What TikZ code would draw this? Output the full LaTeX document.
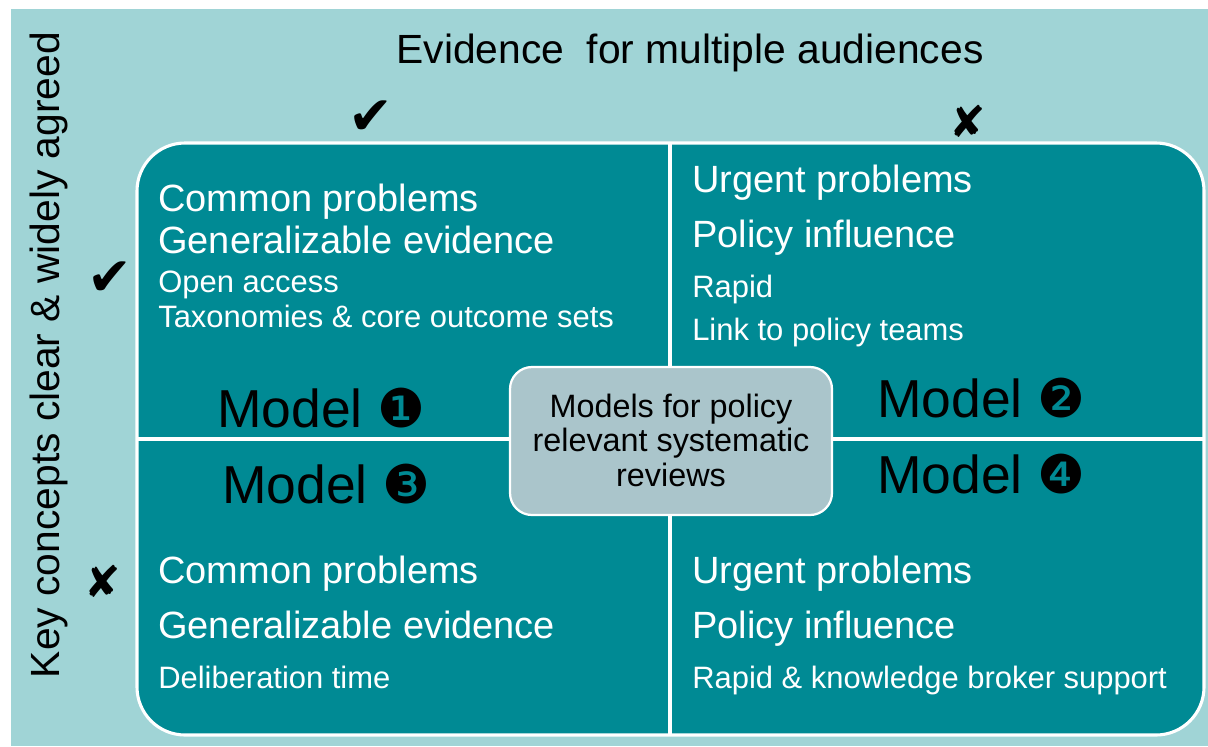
\documentclass[tikz,border=0pt]{standalone}
\usepackage{fontspec}
\setmainfont{Liberation Sans}
\newfontfamily\symfont{DejaVu Sans}
\definecolor{bgteal}{RGB}{160,212,214}
\definecolor{darkteal}{RGB}{0,138,148}
\definecolor{boxgrey}{RGB}{170,197,203}
\tikzset{
	bigtxt/.style={anchor=base west, text=white, inner sep=0pt, font=\fontsize{27}{30}\selectfont},
	smalltxt/.style={anchor=base west, text=white, inner sep=0pt, font=\fontsize{22}{26}\selectfont},
	modeltxt/.style={anchor=base west, inner sep=0pt, font=\fontsize{38}{42}\selectfont},
	axistxt/.style={inner sep=0pt, font=\fontsize{29}{32}\selectfont},
	yestxt/.style={inner sep=0pt, font=\symfont\fontsize{38}{38}\selectfont},
	notxt/.style={inner sep=0pt, font=\symfont\fontsize{31}{31}\selectfont}
}

\begin{document}
\begin{tikzpicture}[x=0.025cm, y=-0.025cm]
		%%%%% START %%%%%
		\useasboundingbox (0, 0) rectangle (1208, 746);
		\fill[white] (0, 0) rectangle (1208, 746);
		\fill[bgteal] (11, 9) rectangle (1208, 746);
		
		% quadrants
		\draw[white, line width=2.2pt, fill=darkteal, rounded corners=1.2cm] (137, 143) rectangle (1204, 735);
		\draw[white, line width=2.2pt] (670, 143) -- (670, 735);
		\draw[white, line width=2.2pt] (137, 439) -- (1204, 439);
		
		% axes
		\node[axistxt, anchor=base] (top) at (690, 63) {Evidence\ \ for multiple audiences};
		\node[axistxt, rotate=90, anchor=base] (left) at (59, 355) {Key concepts clear \& widely agreed};
		\node[yestxt] (yesTop) at (371, 118) {✔};
		\node[notxt] (noTop) at (968, 121) {✘};
		\node[yestxt] (yesLeft) at (110, 279) {✔};
		\node[notxt] (noLeft) at (103, 581) {✘};
		
		% model 1
		\node[bigtxt] (cp1) at (158, 211) {Common problems};
		\node[bigtxt] (ge1) at (158, 253) {Generalizable evidence};
		\node[smalltxt] (oa1) at (158, 292) {Open access};
		\node[smalltxt] (tx1) at (158, 327) {Taxonomies\ \& core outcome sets};
		\node[modeltxt] (m1) at (217, 427) {Model\ {\symfont ❶}};
		
		% model 2
		\node[bigtxt] (up2) at (692, 192) {Urgent problems};
		\node[bigtxt] (pi2) at (692, 247) {Policy influence};
		\node[smalltxt] (ra2) at (692, 297) {Rapid};
		\node[smalltxt] (lk2) at (692, 340) {Link to policy teams};
		\node[modeltxt] (m2) at (877, 417) {Model\ {\symfont ❷}};
		
		% model 3
		\node[modeltxt] (m3) at (222, 503) {Model\ {\symfont ❸}};
		\node[bigtxt] (cp3) at (158, 583) {Common problems};
		\node[bigtxt] (ge3) at (158, 638) {Generalizable evidence};
		\node[smalltxt] (dt3) at (158, 688) {Deliberation time};
		
		% model 4
		\node[modeltxt] (m4) at (877, 493) {Model\ {\symfont ❹}};
		\node[bigtxt] (up4) at (692, 583) {Urgent problems};
		\node[bigtxt] (pi4) at (692, 638) {Policy influence};
		\node[smalltxt] (rk4) at (692, 688) {Rapid \& knowledge broker support};
		
		% centre
		\draw[white, line width=1.6pt, fill=boxgrey, rounded corners=0.55cm] (510, 367) rectangle (832, 515);
		\node[align=center, inner sep=0pt, font=\fontsize{23}{24.5}\selectfont] (centre) at (671, 440) {Models for policy\\relevant systematic\\reviews};
		%%%%% END %%%%%
	\end{tikzpicture}
\end{document}
